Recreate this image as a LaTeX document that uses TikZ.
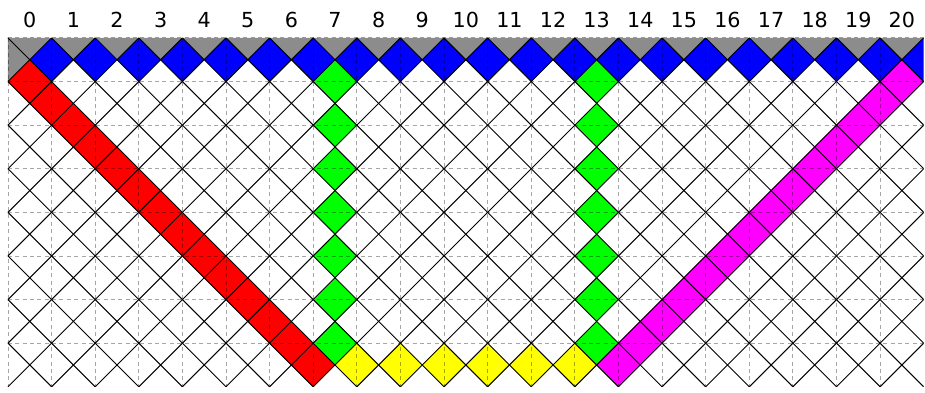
\documentclass[tikz,border=0pt]{standalone}
\usepackage{fontspec}
\setsansfont{DejaVu Sans}
\usepackage{xcolor}
\usepackage{tikz}
\usetikzlibrary{arrows.meta,positioning}
\definecolor{CellGray}{HTML}{8C8C8C}
\definecolor{CellBlue}{HTML}{0000FF}
\definecolor{CellRed}{HTML}{FF0000}
\definecolor{CellGreen}{HTML}{00FF00}
\definecolor{CellYellow}{HTML}{FFFF00}
\definecolor{CellPink}{HTML}{FF00FF}
\newcommand{\cellAt}[3]{\fill[#1] (#2,#3) ++(0,0.5) -- ++(0.5,-0.5) -- ++(-0.5,-0.5) -- ++(-0.5,0.5) -- cycle;}

\begin{document}
\begin{tikzpicture}[
  gridline/.style={draw=black,opacity=0.35,line width=0.6pt,dash pattern=on 2.6pt off 2.2pt},
  lattice/.style={draw=black,line width=0.65pt},
  colnum/.style={anchor=base,inner sep=0pt,font=\sffamily\fontsize{13.5}{16}\selectfont}
]
\useasboundingbox (-0.183,0.87) rectangle (21.03,-8.14);
\begin{scope}
\clip (0,0) rectangle (21,-8);
\foreach \k in {0,...,20} {\fill[CellGray] (\k,0) -- ++(1,0) -- ++(-0.5,-0.5) -- cycle;}
\fill[CellGray] (0,0) -- (0.5,-0.5) -- (0,-1) -- cycle;
\foreach \k in {1,...,21} {\cellAt{CellBlue}{\k}{-0.5}}
\foreach \j in {0,...,13} {\cellAt{CellRed}{0.5+0.5*\j}{-1-0.5*\j}}
\foreach \j in {0,...,13} {\cellAt{CellPink}{14+0.5*\j}{-7.5+0.5*\j}}
\foreach \r in {1,...,7} {\cellAt{CellGreen}{7.5}{-\r} \cellAt{CellGreen}{13.5}{-\r}}
\foreach \k in {8,...,13} {\cellAt{CellYellow}{\k}{-7.5}}
\foreach \k in {0,...,20} {\draw[gridline] (\k,0) -- (\k,-8);}
\foreach \r in {0,...,7} {\draw[gridline] (0,-\r) -- (21,-\r);}
\foreach \n in {-9,...,30} {\draw[lattice] (\n,0) -- ++(9,-9); \draw[lattice] (\n,0) -- ++(-9,-9);}
\end{scope}
\foreach \i in {0,...,20} {\node[colnum] (col\i) at (\i+0.5,0.23) {\i};}
\end{tikzpicture}
\end{document}
